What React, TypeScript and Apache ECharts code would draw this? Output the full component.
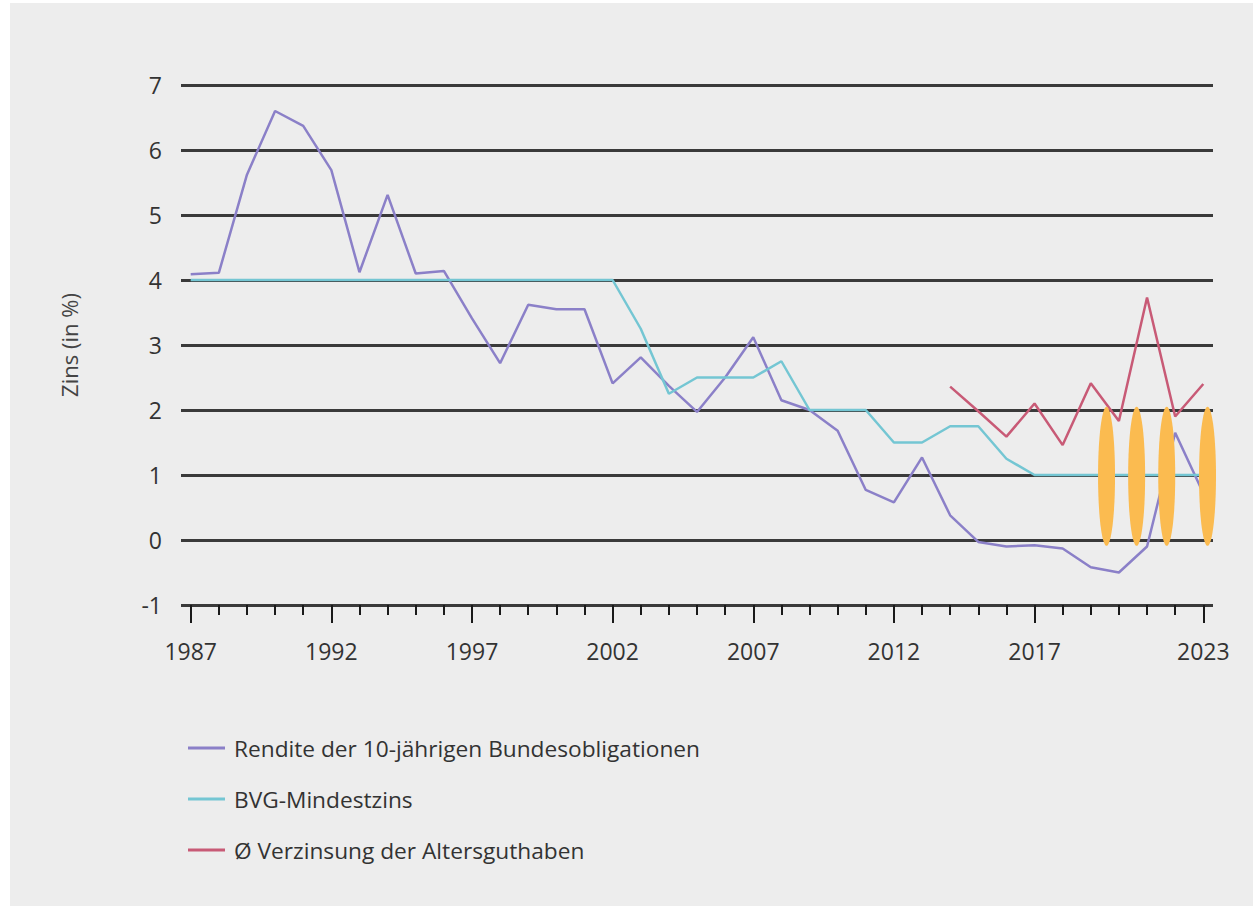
import React, { useEffect, useRef } from 'react';
import * as echarts from 'echarts';

const years = [
  1987, 1988, 1989, 1990, 1991, 1992, 1993, 1994, 1995, 1996, 1997, 1998, 1999,
  2000, 2001, 2002, 2003, 2004, 2005, 2006, 2007, 2008, 2009, 2010, 2011, 2012,
  2013, 2014, 2015, 2016, 2017, 2018, 2019, 2020, 2021, 2022, 2023,
];
const majorYears = [1987, 1992, 1997, 2002, 2007, 2012, 2017, 2023];

const rendite = [
  4.09, 4.11, 5.62, 6.6, 6.37, 5.69, 4.12, 5.31, 4.1, 4.14, 3.41, 2.72, 3.62,
  3.55, 3.55, 2.41, 2.81, 2.37, 1.97, 2.5, 3.12, 2.15, 2.0, 1.68, 0.77, 0.58,
  1.27, 0.38, -0.03, -0.1, -0.08, -0.13, -0.42, -0.5, -0.1, 1.65, 0.72,
];
const bvg = [
  4, 4, 4, 4, 4, 4, 4, 4, 4, 4, 4, 4, 4, 4, 4, 4, 3.25, 2.25, 2.5, 2.5, 2.5,
  2.75, 2, 2, 2, 1.5, 1.5, 1.75, 1.75, 1.25, 1, 1, 1, 1, 1, 1, 1,
];
const verzinsungYears = [2014, 2015, 2016, 2017, 2018, 2019, 2020, 2021, 2022, 2023];
const verzinsung = [2.36, 1.98, 1.59, 2.1, 1.46, 2.41, 1.83, 3.73, 1.9, 2.4];

const ellipseX = [2019.56, 2020.63, 2021.7, 2023.15];
const ellipseTop = 2.05;
const ellipseBottom = -0.09;

const yTicks = { min: -1, max: 7, interval: 1 };

const names = [
  'Rendite der 10-jährigen Bundesobligationen',
  'BVG-Mindestzins',
  'Ø Verzinsung der Altersguthaben',
];
const colors = ['#8b80c8', '#74c6d3', '#c85a76'];

const FONT = 'Open Sans';

export default function App() {
  const ref = useRef<HTMLDivElement>(null);
  useEffect(() => {
    if (!ref.current) return;
    const chart = echarts.init(ref.current, undefined, { renderer: 'svg' });
    const yearLabels = years.map(String);
    const isMajor = (i: number) => majorYears.indexOf(years[i]) >= 0;
    const tickStyle = { color: '#1a1a1a', width: 2 };
    const option: any = {
      animation: false,
      backgroundColor: '#ededed',
      grid: [
        { left: 171, right: 40, top: 82, height: 520 },
        { left: 180.7, right: 49.7, top: 82, height: 520 },
        { left: 180.7, right: 49.7, top: 82, height: 520 },
      ],
      xAxis: [
        { type: 'value', gridIndex: 0, min: 0, max: 1, show: false },
        {
          type: 'value',
          gridIndex: 1,
          min: years[0],
          max: years[years.length - 1],
          interval: 1,
          axisLine: { show: false, onZero: false },
          axisTick: { show: true, length: 10, lineStyle: tickStyle },
          axisLabel: { show: false },
          splitLine: { show: false },
        },
        {
          type: 'category',
          gridIndex: 2,
          data: yearLabels,
          boundaryGap: false,
          axisLine: { show: false, onZero: false },
          axisTick: { show: true, interval: isMajor, length: 18, lineStyle: tickStyle },
          axisLabel: {
            interval: isMajor,
            margin: 34,
            fontSize: 23,
            color: '#333',
            fontFamily: FONT,
          },
          splitLine: { show: false },
        },
      ],
      yAxis: [
        {
          type: 'value',
          gridIndex: 0,
          ...yTicks,
          axisLine: { show: false },
          axisTick: { show: false },
          axisLabel: { margin: 19, fontSize: 23, color: '#333', fontFamily: FONT },
          splitLine: { show: true, lineStyle: { color: '#3a3a3a', width: 3 } },
          name: 'Zins (in %)',
          nameLocation: 'middle',
          nameRotate: 90,
          nameGap: 101,
          nameTextStyle: { fontSize: 22, color: '#444', fontFamily: FONT },
        },
        { type: 'value', gridIndex: 1, ...yTicks, show: false },
        { type: 'value', gridIndex: 2, ...yTicks, show: false },
      ],
      legend: {
        orient: 'vertical',
        left: 173,
        top: 725,
        itemWidth: 37,
        itemHeight: 3,
        itemGap: 21,
        icon: 'rect',
        textStyle: {
          fontSize: 22.7,
          color: '#333',
          fontFamily: FONT,
          lineHeight: 30,
          padding: [0, 0, 0, 4],
        },
        data: names,
      },
      series: [
        {
          name: names[0],
          type: 'line',
          xAxisIndex: 1,
          yAxisIndex: 1,
          symbol: 'none',
          color: colors[0],
          lineStyle: { width: 2.5, color: colors[0] },
          data: years.map((y, i) => [y, rendite[i]]),
          z: 3,
        },
        {
          name: names[1],
          type: 'line',
          xAxisIndex: 1,
          yAxisIndex: 1,
          symbol: 'none',
          color: colors[1],
          lineStyle: { width: 2.5, color: colors[1] },
          data: years.map((y, i) => [y, bvg[i]]),
          z: 4,
        },
        {
          name: names[2],
          type: 'line',
          xAxisIndex: 1,
          yAxisIndex: 1,
          symbol: 'none',
          color: colors[2],
          lineStyle: { width: 2.5, color: colors[2] },
          data: verzinsungYears.map((y, i) => [y, verzinsung[i]]),
          z: 5,
        },
        {
          type: 'custom',
          xAxisIndex: 1,
          yAxisIndex: 1,
          clip: false,
          z: 10,
          data: ellipseX.map((x) => [x, ellipseTop, ellipseBottom]),
          renderItem: (params: any, api: any) => {
            const top = api.coord([api.value(0), api.value(1)]);
            const bot = api.coord([api.value(0), api.value(2)]);
            return {
              type: 'ellipse',
              shape: {
                cx: top[0],
                cy: (top[1] + bot[1]) / 2,
                rx: 8.5,
                ry: (bot[1] - top[1]) / 2,
              },
              style: { fill: '#fbbb50' },
            };
          },
        },
      ],
    };
    chart.setOption(option);
    return () => chart.dispose();
  }, []);

  return (
    <div
      style={{
        position: 'fixed',
        left: 0,
        top: 0,
        width: 1253,
        height: 906,
        background: '#ffffff',
      }}
    >
      <div
        ref={ref}
        style={{ position: 'absolute', left: 10, top: 3, width: 1243, height: 903 }}
      />
    </div>
  );
}
